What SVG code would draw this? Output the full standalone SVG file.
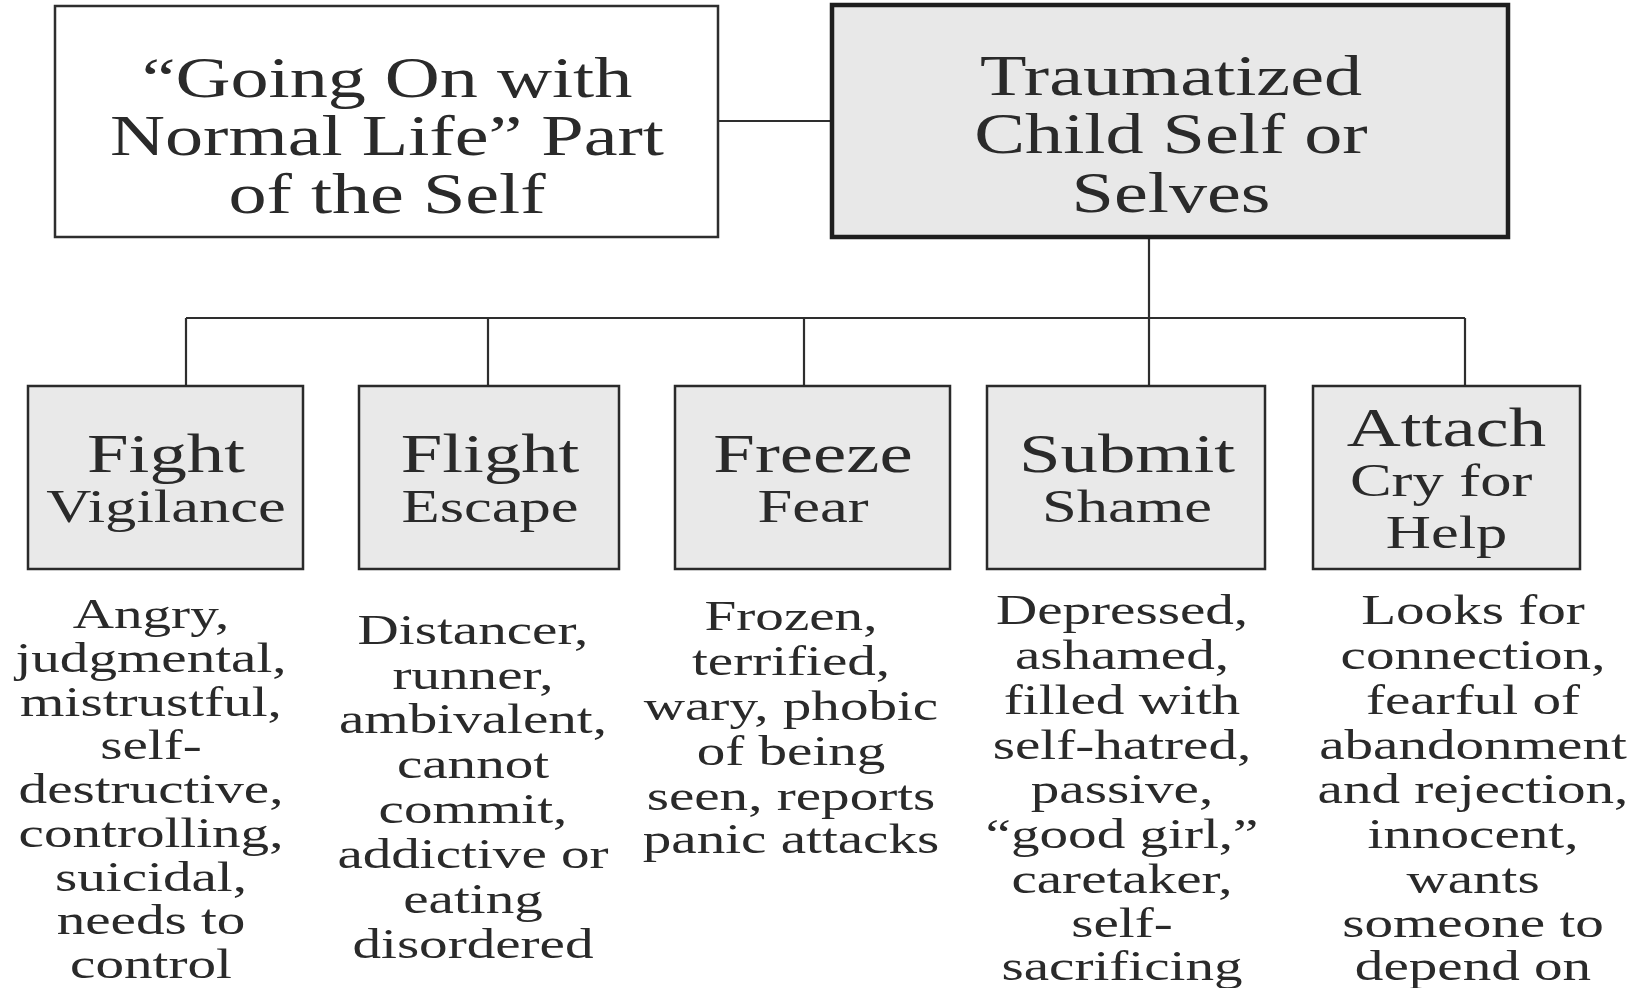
<svg xmlns="http://www.w3.org/2000/svg" width="1636" height="988" viewBox="0 0 1636 988">
<style>
  .bg { fill: #ffffff; }
  .box { fill: #ffffff; stroke: #2e2e2e; stroke-width: 2.5; }
  .boxg { fill: #e9e9e9; stroke: #2a2a2a; stroke-width: 2.5; }
  .boxmain { fill: #e8e8e8; stroke: #1e1e1e; stroke-width: 4.5; }
  .conn { stroke: #2e2e2e; stroke-width: 2.2; fill: none; }
  text { font-family: "Liberation Serif", "Times New Roman", serif; fill: #2a2a2a; text-anchor: middle; }
  .top { font-size: 56px; }
  .t1 { font-size: 55px; }
  .t2 { font-size: 46px; }
  .body { font-size: 42px; }
</style>
<rect class="bg" x="0" y="0" width="1636" height="988"/>

<g id="connectors">
  <line class="conn" x1="718" y1="121" x2="832" y2="121"/>
  <line class="conn" x1="1149" y1="237" x2="1149" y2="318"/>
  <line class="conn" x1="186" y1="318" x2="1465" y2="318"/>
  <line class="conn" x1="186" y1="318" x2="186" y2="386"/>
  <line class="conn" x1="488" y1="318" x2="488" y2="386"/>
  <line class="conn" x1="804" y1="318" x2="804" y2="386"/>
  <line class="conn" x1="1149" y1="318" x2="1149" y2="386"/>
  <line class="conn" x1="1465" y1="318" x2="1465" y2="386"/>
</g>

<g id="normal-life">
  <rect class="box" x="55" y="6" width="663" height="231"/>
  <g transform="translate(387 0) scale(1.36 1)">
    <text class="top" x="0" y="97">“Going On with</text>
    <text class="top" x="0" y="155">Normal Life” Part</text>
    <text class="top" x="0" y="213">of the Self</text>
  </g>
</g>

<g id="traumatized">
  <rect class="boxmain" x="832" y="5" width="676" height="232"/>
  <g transform="translate(1171 0) scale(1.36 1)">
    <text class="top" x="0" y="95">Traumatized</text>
    <text class="top" x="0" y="153">Child Self or</text>
    <text class="top" x="0" y="212">Selves</text>
  </g>
</g>

<g id="fight">
  <rect class="boxg" x="28" y="386" width="275" height="183"/>
  <g transform="translate(166 0) scale(1.36 1)">
    <text class="t1" x="0" y="472">Fight</text>
    <text class="t2" x="0" y="522">Vigilance</text>
  </g>
</g>

<g id="flight">
  <rect class="boxg" x="359" y="386" width="260" height="183"/>
  <g transform="translate(490 0) scale(1.36 1)">
    <text class="t1" x="0" y="472">Flight</text>
    <text class="t2" x="0" y="522">Escape</text>
  </g>
</g>

<g id="freeze">
  <rect class="boxg" x="675" y="386" width="275" height="183"/>
  <g transform="translate(813 0) scale(1.36 1)">
    <text class="t1" x="0" y="472">Freeze</text>
    <text class="t2" x="0" y="522">Fear</text>
  </g>
</g>

<g id="submit">
  <rect class="boxg" x="987" y="386" width="278" height="183"/>
  <g transform="translate(1127 0) scale(1.36 1)">
    <text class="t1" x="0" y="472">Submit</text>
    <text class="t2" x="0" y="522">Shame</text>
  </g>
</g>

<g id="attach">
  <rect class="boxg" x="1313" y="386" width="267" height="183"/>
  <g transform="translate(1446.5 0) scale(1.36 1)">
    <text class="t1" x="0" y="446">Attach</text>
    <text class="t2" x="-4" y="496">Cry for</text>
    <text class="t2" x="0" y="548">Help</text>
  </g>
</g>

<g id="fight-desc" transform="translate(151 0) scale(1.36 1)">
  <text class="body" x="0" y="628">Angry,</text>
  <text class="body" x="0" y="672">judgmental,</text>
  <text class="body" x="0" y="716">mistrustful,</text>
  <text class="body" x="0" y="759.5">self-</text>
  <text class="body" x="0" y="803">destructive,</text>
  <text class="body" x="0" y="847">controlling,</text>
  <text class="body" x="0" y="891">suicidal,</text>
  <text class="body" x="0" y="934.5">needs to</text>
  <text class="body" x="0" y="978">control</text>
</g>

<g id="flight-desc" transform="translate(473 0) scale(1.36 1)">
  <text class="body" x="0" y="644">Distancer,</text>
  <text class="body" x="0" y="689">runner,</text>
  <text class="body" x="0" y="733">ambivalent,</text>
  <text class="body" x="0" y="778">cannot</text>
  <text class="body" x="0" y="823">commit,</text>
  <text class="body" x="0" y="868">addictive or</text>
  <text class="body" x="0" y="913">eating</text>
  <text class="body" x="0" y="958">disordered</text>
</g>

<g id="freeze-desc" transform="translate(791 0) scale(1.36 1)">
  <text class="body" x="0" y="630">Frozen,</text>
  <text class="body" x="0" y="675">terrified,</text>
  <text class="body" x="0" y="720">wary, phobic</text>
  <text class="body" x="0" y="765">of being</text>
  <text class="body" x="0" y="810">seen, reports</text>
  <text class="body" x="0" y="853">panic attacks</text>
</g>

<g id="submit-desc" transform="translate(1122 0) scale(1.36 1)">
  <text class="body" x="0" y="624">Depressed,</text>
  <text class="body" x="0" y="669">ashamed,</text>
  <text class="body" x="0" y="714">filled with</text>
  <text class="body" x="0" y="759">self-hatred,</text>
  <text class="body" x="0" y="803">passive,</text>
  <text class="body" x="0" y="848">“good girl,”</text>
  <text class="body" x="0" y="893">caretaker,</text>
  <text class="body" x="0" y="937">self-</text>
  <text class="body" x="0" y="980">sacrificing</text>
</g>

<g id="attach-desc" transform="translate(1473 0) scale(1.36 1)">
  <text class="body" x="0" y="624">Looks for</text>
  <text class="body" x="0" y="669">connection,</text>
  <text class="body" x="0" y="714">fearful of</text>
  <text class="body" x="0" y="759">abandonment</text>
  <text class="body" x="0" y="803">and rejection,</text>
  <text class="body" x="0" y="848">innocent,</text>
  <text class="body" x="0" y="893">wants</text>
  <text class="body" x="0" y="937">someone to</text>
  <text class="body" x="0" y="980">depend on</text>
</g>
</svg>
